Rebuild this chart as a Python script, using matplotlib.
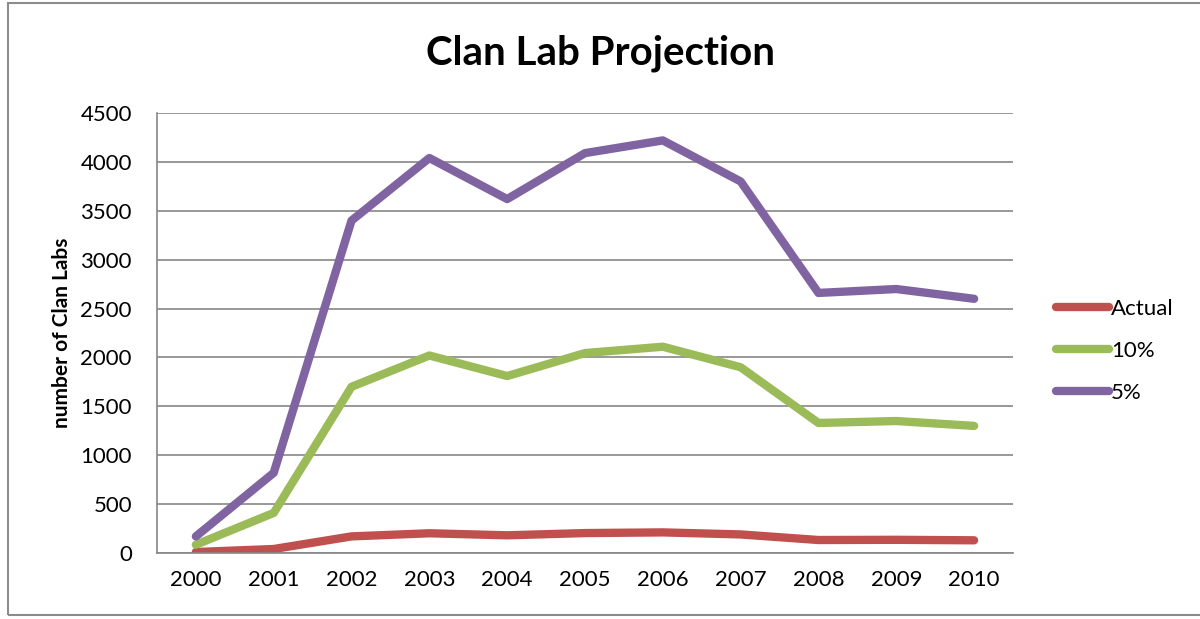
import matplotlib.pyplot as plt
from matplotlib.patches import Rectangle

plt.rcParams['font.family'] = ['Lato', 'DejaVu Sans']

years = ['2000', '2001', '2002', '2003', '2004', '2005', '2006', '2007', '2008', '2009', '2010']
actual = [10, 41, 170, 202, 181, 204, 211, 190, 133, 135, 130]
pct10 = [85, 410, 1700, 2020, 1810, 2045, 2110, 1900, 1330, 1350, 1300]
pct5 = [170, 820, 3400, 4040, 3620, 4090, 4220, 3800, 2660, 2700, 2600]

fig = plt.figure(figsize=(12, 6.19), dpi=100)
fig.patches.append(Rectangle((0.007, 0.006), 1.2, 0.989, transform=fig.transFigure,
                             fill=False, edgecolor='#8c8c8c', linewidth=1.5))
ax = fig.add_axes([0.1308, 0.1066, 0.7134, 0.7108])

x = range(len(years))
ax.plot(x, actual, color='#C0504D', lw=6, solid_capstyle='round', solid_joinstyle='round', label='Actual')
ax.plot(x, pct10, color='#9BBB59', lw=6, solid_capstyle='round', solid_joinstyle='round', label='10%')
ax.plot(x, pct5, color='#8064A2', lw=6, solid_capstyle='round', solid_joinstyle='round', label='5%')

ax.set_xlim(-0.5, len(years) - 0.5)
ax.set_ylim(0, 4500)
ax.set_yticks(range(0, 4501, 500))
ax.set_xticks(list(x))
ax.set_xticklabels(years)
ax.yaxis.grid(True, color='#868686', lw=1.2)
ax.set_axisbelow(True)
for s in ['top', 'right']:
    ax.spines[s].set_visible(False)
for s in ['left', 'bottom']:
    ax.spines[s].set_color('#868686')
    ax.spines[s].set_linewidth(1.2)
ax.tick_params(length=0, labelsize=16, pad=12)
ax.tick_params(axis='y', pad=18)
ax.set_ylabel('number of Clan Labs', fontsize=15, fontweight='bold', labelpad=6)

fig.suptitle('Clan Lab Projection', fontsize=29, fontweight='bold', y=0.945)

fig.legend(loc='center left', bbox_to_anchor=(0.863, 0.433), frameon=False, fontsize=16,
           handlelength=2.4, handletextpad=0.1, labelspacing=1.0)

fig.savefig('out.png', dpi=100)
